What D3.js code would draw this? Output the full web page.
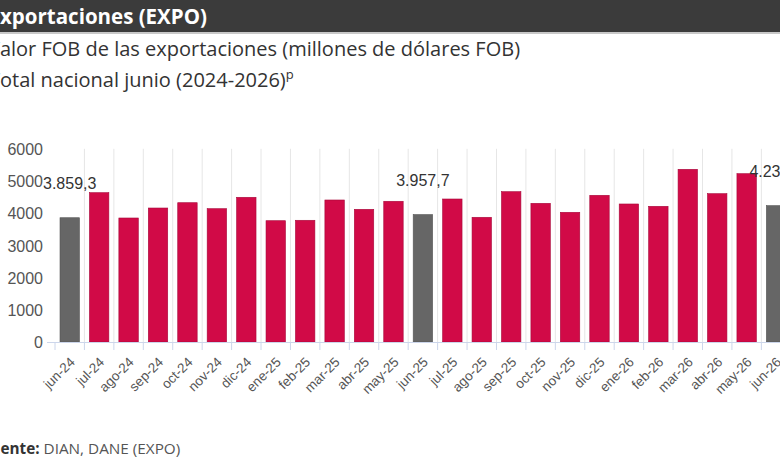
<!DOCTYPE html>
<html>
<head>
<meta charset="utf-8">
<script src="https://cdn.jsdelivr.net/npm/d3@7"></script>
<style>
  html, body { margin: 0; padding: 0; background: #fff; overflow: hidden; }
  svg { display: block; }
</style>
</head>
<body>
<svg id="chart" width="780" height="470"></svg>
<script>
const categories = ['jun-24', 'jul-24', 'ago-24', 'sep-24', 'oct-24', 'nov-24', 'dic-24',
  'ene-25', 'feb-25', 'mar-25', 'abr-25', 'may-25', 'jun-25', 'jul-25', 'ago-25',
  'sep-25', 'oct-25', 'nov-25', 'dic-25', 'ene-26', 'feb-26', 'mar-26', 'abr-26',
  'may-26', 'jun-26']
const values = [3859.3, 4637, 3851, 4161, 4326, 4140, 4494, 3767, 3780, 4410, 4121, 4370,
  3957.7, 4441, 3873, 4668, 4307, 4028, 4556, 4286, 4214, 5363, 4606, 5227, 4234]
const juneMonths = ['jun-24', 'jun-25', 'jun-26']
const yTicks = [0, 1000, 2000, 3000, 4000, 5000, 6000]

const data = categories.map((c, i) => ({ cat: c, value: values[i], june: juneMonths.includes(c) }))

const es = d3.formatLocale({ decimal: ',', thousands: '.', grouping: [3], currency: ['$', ''] })
const fmt = es.format(',.1f')

const svg = d3.select('#chart')

// header band
svg.append('rect').attr('x', 0).attr('y', 0).attr('width', 780).attr('height', 32).attr('fill', '#3b3b3b')
svg.append('rect').attr('x', 0).attr('y', 32).attr('width', 780).attr('height', 2).attr('fill', '#c8c8c8')
svg.append('text')
  .attr('x', -11.5).attr('y', 23.5)
  .style('font-family', 'Open Sans').style('font-weight', 700).style('font-size', '20.5px')
  .attr('fill', '#fff')
  .text('Exportaciones (EXPO)')

const sub = svg.append('g')
  .style('font-family', 'Open Sans').style('font-size', '20px').attr('fill', '#333')
sub.append('text').attr('x', -12).attr('y', 56)
  .text('Valor FOB de las exportaciones (millones de dólares FOB)')
const line2 = sub.append('text').attr('x', -11).attr('y', 87)
line2.append('tspan').text('Total nacional junio (2024-2026)')
line2.append('tspan').attr('dy', -8).style('font-size', '13px').text('p')

const foot = svg.append('text').attr('x', -18).attr('y', 454)
  .style('font-family', 'Open Sans').style('font-size', '15.3px').attr('fill', '#555')
foot.append('tspan').style('font-weight', 700).attr('fill', '#333').text('Fuente: ')
foot.append('tspan').text('DIAN, DANE (EXPO)')

// scales
const x = d3.scaleBand().domain(categories).range([50, 795.8]).padding(0.34)
const y = d3.scaleLinear().domain([0, 6000]).range([342, 148.8])
const step = x.step()
const boundary = i => x(categories[i]) - step * x.paddingInner() / 2

// vertical grid lines between categories
const g = svg.append('g')
g.selectAll('.grid')
  .data(d3.range(1, categories.length + 1))
  .enter().append('line')
  .attr('class', 'grid')
  .attr('x1', i => boundary(0) + step * i).attr('x2', i => boundary(0) + step * i)
  .attr('y1', y(6000)).attr('y2', y(0))
  .attr('stroke', '#e6e6e6').attr('stroke-width', 1)

// y axis labels
const yAxis = d3.axisLeft(y).tickValues(yTicks).tickFormat(d3.format('d')).tickSize(0).tickPadding(0)
svg.append('g')
  .attr('transform', 'translate(43,0)')
  .call(yAxis)
  .call(s => s.select('.domain').remove())
  .selectAll('text')
  .style('font-family', 'Liberation Sans, Arial, sans-serif')
  .style('font-size', '16px')
  .attr('fill', '#555')
  .attr('dy', '0.35em')

// bars
g.selectAll('.bar')
  .data(data)
  .enter().append('rect')
  .attr('class', 'bar')
  .attr('x', d => x(d.cat))
  .attr('y', d => y(d.value))
  .attr('width', x.bandwidth())
  .attr('height', d => y(0) - y(d.value))
  .attr('fill', d => d.june ? '#666666' : '#d10a47')
  .attr('stroke', d => d.june ? '#555' : '#a8083a')
  .attr('stroke-width', 0.6)

// baseline and ticks
g.append('line')
  .attr('x1', 47).attr('x2', 780)
  .attr('y1', y(0) + 0.5).attr('y2', y(0) + 0.5)
  .attr('stroke', '#ccd6eb')
g.selectAll('.tick-mark')
  .data(d3.range(0, categories.length + 1))
  .enter().append('line')
  .attr('x1', i => boundary(0) + step * i).attr('x2', i => boundary(0) + step * i)
  .attr('y1', y(0)).attr('y2', y(0) + 8)
  .attr('stroke', '#ccd6eb')

// x labels
g.selectAll('.xlab')
  .data(categories)
  .enter().append('text')
  .attr('class', 'xlab')
  .attr('text-anchor', 'end')
  .attr('transform', d => 'translate(' + (x(d) + x.bandwidth() / 2 + 6) + ',363) rotate(-45)')
  .style('font-family', 'Liberation Sans, Arial, sans-serif')
  .style('font-size', '13.5px')
  .attr('fill', '#555')
  .text(d => d)

// June value labels
g.selectAll('.vlab')
  .data(data.filter(d => d.june))
  .enter().append('text')
  .attr('class', 'vlab')
  .attr('text-anchor', 'middle')
  .attr('x', d => x(d.cat) + x.bandwidth() / 2)
  .attr('y', d => y(d.value) - 29)
  .style('font-family', 'Liberation Sans, Arial, sans-serif')
  .style('font-size', '16px')
  .attr('fill', '#333')
  .text(d => fmt(d.value))
</script>
</body>
</html>
